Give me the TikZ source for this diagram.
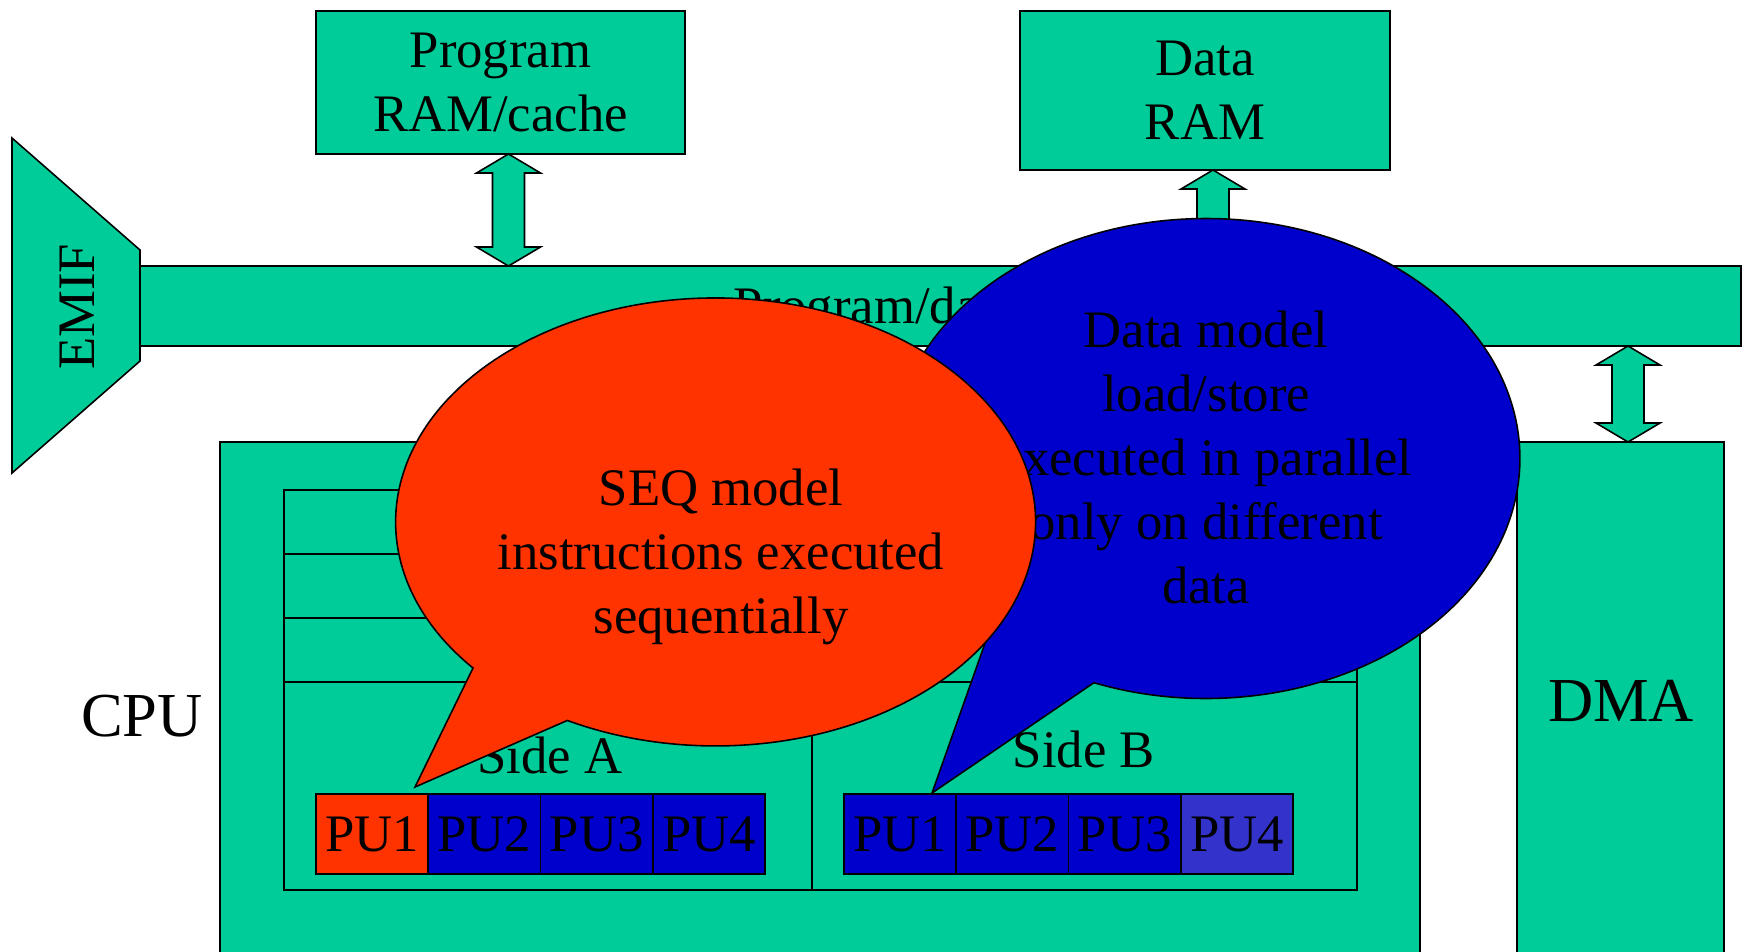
\documentclass[tikz,border=0pt]{standalone}
\usepackage{fontspec}
\setmainfont{Liberation Serif}
\usetikzlibrary{calc}

\definecolor{unitgreen}{HTML}{00CC99}
\definecolor{seqred}{HTML}{FF3300}
\definecolor{parblue}{HTML}{0000CC}
\definecolor{parbluelight}{HTML}{3333CC}

\tikzset{
  unit/.style={draw=black, line width=0.45pt, fill=unitgreen, outer sep=0pt},
  pubox/.style={draw=black, line width=0.45pt, minimum width=11.225mm, minimum height=8mm, inner sep=0pt, outer sep=0pt},
  bubble/.style={draw=black, line width=0.45pt},
  txt/.style={font=\fontsize{15}{18.2}\selectfont, align=center},
  bigtxt/.style={font=\fontsize{17.8}{21}\selectfont}
}

\newcommand{\busarrow}[2]{%
  \draw[unit] (#1) -- ($(#1)+(32,19)$) -- ($(#1)+(16,19)$) -- ($(#2)+(16,-19)$)
    -- ($(#2)+(32,-19)$) -- (#2) -- ($(#2)+(-32,-19)$) -- ($(#2)+(-16,-19)$)
    -- ($(#1)+(-16,19)$) -- ($(#1)+(-32,19)$) -- cycle;}

\begin{document}
\begin{tikzpicture}[x=0.1mm, y=-0.1mm]
\useasboundingbox (0,0) rectangle (1746,951);
\clip (0,0) rectangle (1746,951);

\draw[unit] (12,138) -- (140,250) -- (140,361) -- (12,473) -- cycle;
\node[txt, rotate=90] (emif) at (77,307) {EMIF};

\node[unit, minimum width=160.1mm, minimum height=8mm] (bus) at (940.5,306) {};
\node[txt, anchor=base west, inner sep=0pt] (buslabel) at (733,323) {Program/data buses};

\node[unit, txt, minimum width=36.9mm, minimum height=14.3mm] (program) at (500.5,82.5) {Program\\RAM/cache};
\node[unit, txt, minimum width=37mm, minimum height=15.9mm] (data) at (1205,90.5) {Data\\RAM};

\path (program.south) ++(8,0) coordinate (progport);
\path (progport |- bus.north) coordinate (busprog);
\busarrow{progport}{busprog}

\path (data.south) ++(8,0) coordinate (dataport);
\path (dataport |- bus.north) coordinate (busdata);
\busarrow{dataport}{busdata}

\node[unit, minimum width=120mm, minimum height=51.6mm] (cpu) at (820,700) {};
\node[bigtxt, anchor=base] (cpulabel) at (142,736) {CPU};

\draw[unit] (284,490) rectangle (1357,890);
\foreach \y in {554,618,682}
  \draw[line width=0.45pt] (284,\y) -- (1357,\y);
\draw[line width=0.45pt] (812,682) -- (812,890);

\node[txt, anchor=base] (sidea) at (550,773) {Side A};
\node[txt, anchor=base] (sideb) at (1084,767) {Side B};

\foreach \i/\col in {1/seqred,2/parblue,3/parblue,4/parblue}
  \node[pubox, txt, fill=\col, anchor=north west] (pua\i) at ({316+112.25*(\i-1)},794) {PU\i};
\foreach \i/\col in {1/parblue,2/parblue,3/parblue,4/parbluelight}
  \node[pubox, txt, fill=\col, anchor=north west] (pub\i) at ({844+112.25*(\i-1)},794) {PU\i};

\node[unit, minimum width=20.7mm, minimum height=51.6mm] (dma) at (1620.5,700) {};
\node[bigtxt, anchor=base] (dmalabel) at (1621,721) {DMA};

\path (dma.north) ++(7.5,0) coordinate (dmaport);
\path (dmaport |- bus.south) coordinate (busdma);
\busarrow{busdma}{dmaport}

% callouts
\draw[bubble, fill=parblue] (989,632) arc[start angle=133.7, end angle=470.9, x radius=314, y radius=240] -- (932,793) -- cycle;
\node[txt] (partext) at (1206,457.5) {Data model\\load/store\\executed in parallel\\only on different\\data};

\draw[bubble, fill=seqred] (473,668) arc[start angle=139.3, end angle=477.6, x radius=320, y radius=224] -- (415,787) -- cycle;
\node[txt] (seqtext) at (721,557) {SEQ model\\instructions executed\\sequentially};
\end{tikzpicture}
\end{document}
